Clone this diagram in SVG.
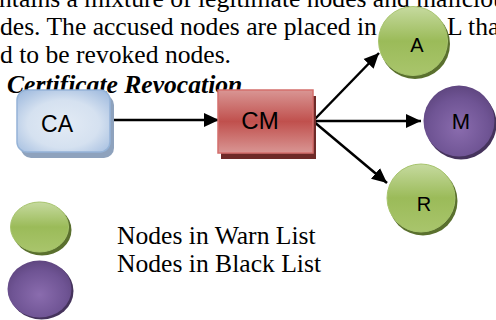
<svg xmlns="http://www.w3.org/2000/svg" width="496" height="320" viewBox="0 0 496 320">
<style>
.body{font-family:"Liberation Serif","Times New Roman",serif;font-size:25.6px;fill:#000}
.head{font-family:"Liberation Serif","Times New Roman",serif;font-size:25.6px;font-weight:bold;font-style:italic;fill:#000}
.lbl{font-family:"Liberation Sans",Arial,sans-serif;fill:#000;text-anchor:middle}
.conn{stroke:#000;stroke-width:2.5;fill:none;marker-end:url(#ah)}
</style>
<defs>
<marker id="ah" markerUnits="userSpaceOnUse" markerWidth="16" markerHeight="16" viewBox="0 0 16 16" refX="15" refY="8" orient="auto">
<path d="M0,1 L15,8 L0,15 Z" fill="#000"/>
</marker>
<radialGradient id="gBlue" cx="0.5" cy="0.55" r="0.7">
<stop offset="0" stop-color="#e3ebf5"/>
<stop offset="0.55" stop-color="#d5e1f0"/>
<stop offset="1" stop-color="#9fbade"/>
</radialGradient>
<linearGradient id="gRed" x1="0" y1="0" x2="0" y2="1">
<stop offset="0" stop-color="#d99694"/>
<stop offset="0.5" stop-color="#c0504d"/>
<stop offset="1" stop-color="#d99694"/>
</linearGradient>
<linearGradient id="gGreen" x1="0" y1="0" x2="0" y2="1">
<stop offset="0" stop-color="#c6da9f"/>
<stop offset="0.5" stop-color="#9bbb59"/>
<stop offset="1" stop-color="#a9c56c"/>
</linearGradient>
<radialGradient id="gPurple" cx="0.5" cy="0.6" r="0.6">
<stop offset="0" stop-color="#8a6cae"/>
<stop offset="0.7" stop-color="#6f5494"/>
<stop offset="1" stop-color="#5f4680"/>
</radialGradient>
</defs>

<g id="text">
<text class="body" x="-1" y="7">ntains a mixture of legitimate nodes and malicious</text>
<text class="body" x="0" y="35">des. The accused nodes are placed in</text>
<text class="body" x="447" y="35">L tha</text>
<text class="body" x="0" y="63">d to be revoked nodes.</text>
<text class="head" x="7" y="93">Certificate Revocation</text>
</g>

<g id="connectors">
<line class="conn" x1="110" y1="120" x2="219" y2="120"/>
<line class="conn" x1="313" y1="121" x2="379" y2="53"/>
<line class="conn" x1="313" y1="121" x2="421" y2="121"/>
<line class="conn" x1="313" y1="121" x2="387" y2="183"/>
</g>

<g id="CA">
<rect x="21" y="95" width="93" height="63" rx="10" fill="#8ea2bd"/>
<rect x="17" y="90" width="93" height="62" rx="10" fill="url(#gBlue)" stroke="#95b3d7" stroke-width="1.5"/>
<text class="lbl" x="57" y="132" font-size="23">CA</text>
</g>

<g id="CM">
<rect x="221" y="96" width="95" height="63" fill="#6e2a28"/>
<rect x="218" y="90" width="95" height="63" fill="url(#gRed)" stroke="#d46f6c" stroke-width="1.5"/>
<text class="lbl" x="260" y="129" font-size="24">CM</text>
</g>

<g id="A">
<circle cx="415" cy="44" r="35" fill="#5a702e"/>
<circle cx="413" cy="41" r="34.5" fill="url(#gGreen)" stroke="#a7c46d" stroke-width="1"/>
<text class="lbl" x="417" y="52" font-size="20">A</text>
</g>

<g id="M">
<circle cx="461" cy="124" r="35.5" fill="#45335c"/>
<circle cx="459" cy="121" r="35.5" fill="url(#gPurple)"/>
<text class="lbl" x="461" y="129" font-size="22">M</text>
</g>

<g id="R">
<circle cx="423" cy="201" r="34.5" fill="#5a702e"/>
<circle cx="421" cy="198" r="34" fill="url(#gGreen)" stroke="#a7c46d" stroke-width="1"/>
<text class="lbl" x="424" y="211" font-size="20">R</text>
</g>

<g id="legend">
<ellipse cx="42" cy="230" rx="29.5" ry="25.5" fill="#5a702e"/>
<ellipse cx="39.5" cy="227" rx="29" ry="25" fill="url(#gGreen)" stroke="#a7c46d" stroke-width="1"/>
<ellipse cx="41.5" cy="291" rx="32" ry="28.5" fill="#45335c"/>
<ellipse cx="39.5" cy="289" rx="32" ry="28.5" fill="url(#gPurple)"/>
<text class="body" x="117" y="244">Nodes in Warn List</text>
<text class="body" x="117" y="272">Nodes in Black List</text>
</g>
</svg>
